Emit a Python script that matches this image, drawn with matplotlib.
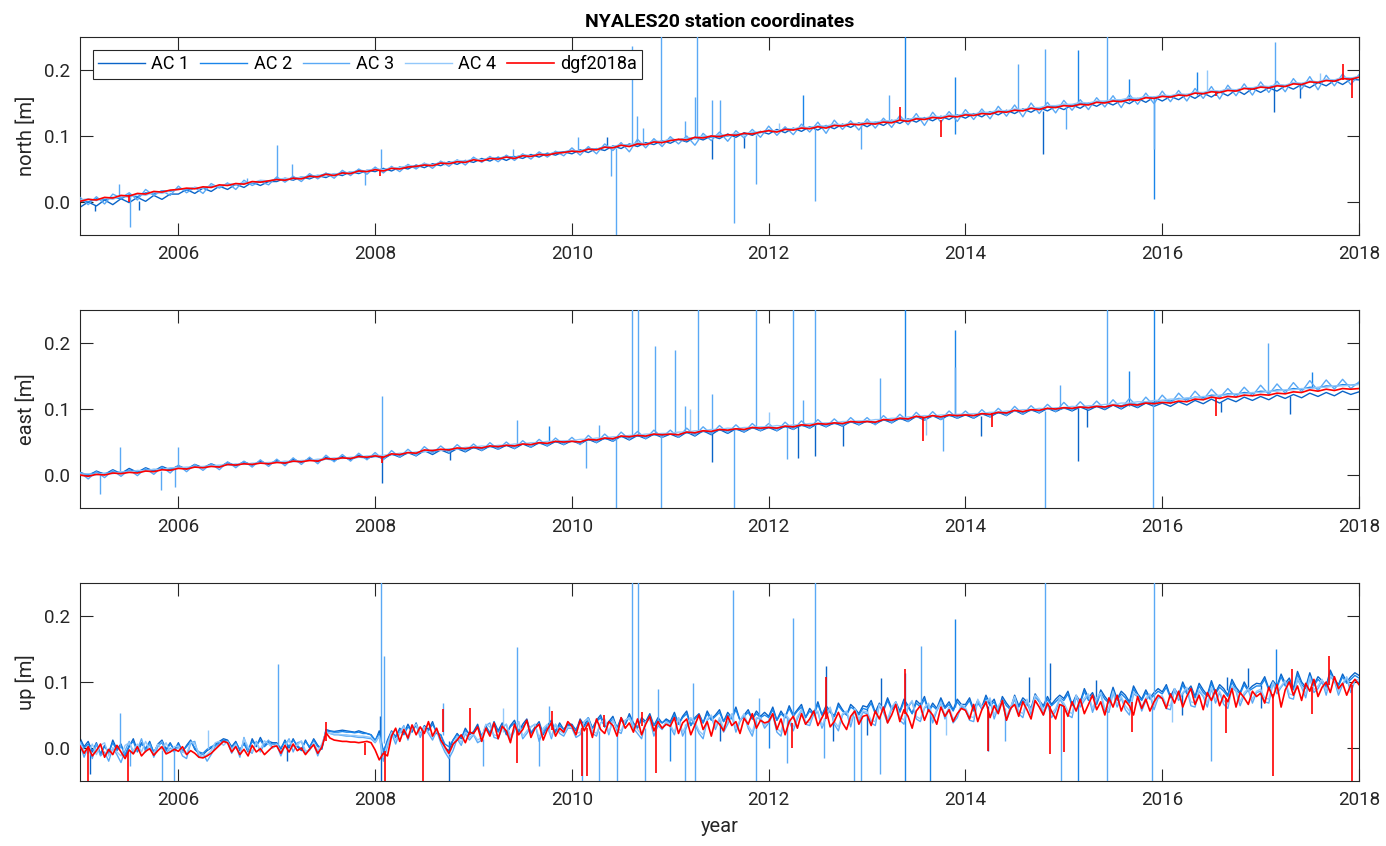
import numpy as np
import matplotlib
matplotlib.use("Agg")
import matplotlib.pyplot as plt

plt.rcParams['font.family'] = ['Roboto', 'DejaVu Sans']

# ---------------- data (millimetres) ----------------
series_names = ['AC 1', 'AC 2', 'AC 3', 'AC 4', 'dgf2018a']
panel_labels = ['north [m]', 'east [m]', 'up [m]']
year_ticks = [2006, 2008, 2010, 2012, 2014, 2016, 2018]
value_ticks = [0.0, 0.1, 0.2]
years_monthly = 2005 + np.arange(157) / 12.0      # north / east samples
years_halfmonth = 2005 + np.arange(313) / 24.0    # up samples

north_ac1 = [-8,0,-6,3,-4,5,-1,7,1,10,4,12,
             12,19,13,21,16,24,19,27,22,30,25,31,
             31,36,33,38,35,40,37,43,40,46,43,48,
             46,51,47,53,50,56,52,58,55,61,57,63,
             60,66,62,68,63,69,66,72,68,74,71,76,
             73,79,75,81,78,85,81,88,84,90,87,93,
             89,95,91,98,94,100,96,103,98,105,101,107,
             103,110,105,112,107,114,109,116,111,118,113,120,
             114,121,116,124,119,126,121,128,123,130,125,132,
             127,134,129,137,132,139,134,141,136,143,138,145,
             140,147,142,150,145,152,147,154,149,157,151,159,
             153,160,155,163,157,165,159,167,161,170,163,172,
             166,173,168,176,171,178,173,181,176,184,178,186,
             185]
north_ac2 = [2,0,5,3,7,5,11,8,14,12,17,16,
             20,18,22,21,24,23,27,26,29,28,32,31,
             35,33,37,36,40,39,43,41,45,44,48,47,
             50,48,52,51,55,53,57,56,60,59,62,61,
             65,63,67,66,69,68,71,70,73,72,75,76,
             78,77,81,80,84,83,87,86,89,88,92,91,
             95,94,97,96,99,98,101,100,103,102,105,105,
             109,107,111,110,113,112,115,114,117,116,119,118,
             121,119,123,121,125,124,127,126,129,128,131,130,
             134,132,136,134,138,137,140,139,143,141,145,144,
             148,146,150,148,152,151,154,153,157,155,159,158,
             161,160,163,162,166,165,168,167,171,169,173,172,
             175,174,178,176,180,179,183,182,185,184,188,187,
             190]
north_ac3 = [7,-4,8,-3,12,6,14,3,19,10,17,10,
             24,14,22,13,28,21,29,19,33,25,31,26,
             38,30,39,31,43,35,44,36,48,40,50,42,
             53,44,54,46,57,50,59,51,62,54,64,56,
             68,60,69,61,71,63,73,65,76,68,77,70,
             82,71,84,73,88,78,90,76,95,82,96,84,
             99,88,100,86,104,93,106,92,108,97,110,98,
             115,101,114,102,118,106,121,104,124,110,123,109,
             126,112,127,113,131,117,134,116,136,121,137,122,
             140,125,141,126,145,130,147,129,150,134,151,135,
             154,139,155,140,158,144,161,143,163,148,165,149,
             168,152,169,153,172,157,175,156,177,161,179,162,
             182,166,183,167,187,171,190,170,192,176,194,178,
             193]
north_ac4 = [3,5,2,6,4,9,7,12,10,15,13,17,
             19,20,22,21,25,24,27,26,30,29,33,32,
             34,36,35,38,37,41,39,43,42,46,45,48,
             50,49,52,52,55,54,58,56,60,59,63,62,
             65,64,67,66,68,67,71,70,73,72,75,75,
             78,77,80,80,83,84,87,86,90,88,92,92,
             95,94,97,97,100,99,102,101,104,103,106,106,
             108,108,110,111,113,113,115,115,118,117,119,119,
             121,121,123,123,126,125,128,127,130,129,132,131,
             134,133,136,136,139,138,141,140,143,143,146,146,
             148,148,151,150,153,153,155,155,158,157,160,159,
             162,161,164,163,166,166,169,168,171,170,173,173,
             176,175,178,177,181,180,183,182,186,185,189,188,
             190]
north_dgf = [1,4,3,7,6,10,9,13,12,16,15,18,
             19,21,20,23,22,26,25,28,27,31,30,32,
             34,33,36,35,39,38,42,40,44,43,47,46,
             49,47,51,50,53,54,56,55,59,58,61,60,
             64,62,66,65,68,66,70,69,72,71,74,75,
             77,76,80,79,83,82,86,84,88,87,91,90,
             93,95,94,98,97,100,99,102,101,104,103,106,
             108,106,110,109,112,111,114,112,116,115,118,117,
             119,118,121,120,124,122,126,125,128,127,130,129,
             132,131,134,133,137,136,139,138,142,140,144,143,
             146,145,148,147,151,150,153,152,155,154,158,157,
             160,159,162,161,165,164,167,166,169,168,172,171,
             174,173,176,175,179,178,182,181,184,183,187,186,
             189]

# spikes: (year, start value, extreme value) in mm
north_sp_ac1 = [(2005.15, -4, -14), (2005.6, 2, -12), (2010.36, 85, 98), (2011.42, 96, 65),
                (2011.75, 100, 82), (2014.79, 138, 73), (2017.14, 176, 136), (2017.4, 178, 158)]
north_sp_ac2 = [(2012.35, 110, 162), (2013.39, 124, 260), (2013.89, 128, 189), (2013.89, 128, 103),
                (2015.14, 149, 230), (2015.66, 153, 186), (2015.92, 157, 4), (2016.35, 162, 197)]
north_sp_ac3 = [(2005.40, 8, 28), (2005.51, 10, -38), (2007.0, 33, 87), (2007.15, 34, 58),
                (2007.9, 47, 25), (2008.06, 49, 81), (2010.06, 77, 98), (2010.40, 82, 40),
                (2010.45, 82, -55), (2010.61, 86, 237), (2010.66, 86, 130), (2010.72, 86, 112),
                (2010.91, 88, 260), (2011.15, 93, 123), (2011.25, 95, 159), (2011.27, 95, 260),
                (2011.42, 97, 155), (2011.50, 98, 155), (2011.65, 99, -32), (2011.87, 101, 27),
                (2012.47, 112, 1), (2012.94, 116, 80), (2013.22, 120, 162), (2014.53, 138, 209),
                (2014.81, 141, 232), (2015.02, 146, 110), (2015.44, 152, 260), (2015.92, 157, 80),
                (2017.15, 174, 242), (2009.4, 68, 80), (2006.7, 27, 36)]
north_sp_ac4 = [(2008.7, 56, 62), (2012.1, 108, 120), (2016.46, 166, 200), (2017.6, 182, 195)]
north_sp_dgf = [(2013.33, 122, 144), (2013.75, 124, 98), (2016.55, 166, 160), (2017.84, 185, 209),
                (2017.93, 186, 157), (2005.5, 10, 0), (2008.05, 49, 40)]

east_ac1 = [4,-1,6,1,8,2,10,4,11,6,13,8,
            14,9,16,11,17,12,19,14,20,15,21,16,
            22,17,24,19,25,20,27,22,28,23,30,25,
            30,24,32,27,34,29,37,31,38,33,40,35,
            42,37,44,39,45,40,47,42,49,44,51,46,
            52,47,54,49,56,51,59,53,60,55,62,57,
            62,57,65,59,67,61,69,63,70,65,72,67,
            72,67,74,69,76,71,78,73,79,74,81,76,
            82,77,84,79,86,81,89,83,90,84,91,86,
            91,86,93,88,95,90,98,92,99,94,101,96,
            102,97,103,98,104,99,106,100,107,102,109,104,
            109,104,111,106,113,108,115,109,116,111,118,113,
            119,114,121,116,122,117,124,119,125,120,127,122,
            126]
east_ac2 = [3,1,4,2,5,4,7,6,8,7,10,9,
            11,10,13,12,14,13,16,15,17,16,19,18,
            20,19,21,20,23,22,24,23,26,25,27,26,
            28,27,31,30,33,32,36,35,38,37,40,39,
            41,40,43,42,45,44,47,46,48,47,50,49,
            51,50,53,52,55,54,58,57,59,58,61,60,
            62,61,64,63,66,65,68,67,69,68,71,70,
            72,71,73,72,75,74,77,76,78,77,80,79,
            81,80,83,82,85,84,88,86,89,88,90,89,
            91,90,92,91,94,93,97,95,98,97,100,99,
            101,100,103,102,104,103,106,105,108,107,111,110,
            113,112,116,115,118,117,121,120,123,122,125,124,
            127,126,129,128,131,130,133,132,135,134,137,136,
            138]
east_ac3 = [4,-6,5,-4,7,-2,8,-1,10,1,12,3,
            15,5,16,7,17,8,20,11,21,12,23,13,
            24,14,26,16,27,17,30,20,31,21,33,23,
            34,23,37,27,39,29,43,33,44,34,46,36,
            47,37,49,39,50,40,52,42,54,44,56,46,
            57,46,60,49,62,51,65,54,66,55,68,57,
            68,57,71,60,73,62,75,64,76,65,78,67,
            78,67,80,69,82,71,84,73,85,74,87,76,
            87,76,90,79,92,81,95,83,96,84,97,86,
            97,86,99,88,101,90,104,92,105,94,107,96,
            110,98,111,99,112,100,114,101,116,103,118,105,
            121,108,124,111,127,114,130,117,131,118,133,120,
            136,122,138,124,140,126,143,128,144,130,145,131,
            141]
east_ac4 = [1,2,0,3,2,5,4,7,6,9,8,11,
            11,12,12,13,14,15,15,17,16,18,18,19,
            19,21,20,22,22,24,24,26,25,27,27,29,
            29,30,31,33,33,35,35,38,37,40,39,42,
            42,44,43,45,45,47,47,49,49,51,51,52,
            52,54,54,56,56,58,58,60,60,62,62,63,
            63,65,65,67,67,69,69,71,70,72,72,73,
            73,75,74,76,76,78,78,79,79,81,81,82,
            82,84,84,86,86,88,88,90,89,91,91,92,
            92,93,93,95,95,97,97,99,99,101,100,102,
            102,104,103,105,105,107,107,109,109,111,111,113,
            113,115,115,117,117,119,119,121,121,123,123,125,
            125,127,127,129,129,131,131,133,133,135,135,136,
            137]
east_dgf = [0,-2,1,0,3,2,4,3,6,5,8,7,
            10,9,12,11,13,12,16,15,17,16,18,17,
            19,18,21,20,22,21,25,24,26,25,28,27,
            29,27,32,31,34,33,38,37,39,38,41,40,
            42,41,44,43,45,44,47,46,49,48,51,50,
            51,50,54,53,56,55,59,58,60,59,62,61,
            62,61,65,64,67,66,69,68,70,69,72,71,
            72,71,74,73,76,75,78,77,79,78,81,80,
            81,80,84,83,86,85,89,87,90,88,91,90,
            91,90,93,92,95,94,98,96,99,98,101,100,
            102,101,103,102,104,103,106,104,107,106,109,108,
            110,109,112,111,115,114,118,116,119,118,121,120,
            122,121,124,123,126,125,129,127,130,128,131,130,
            131]

east_sp_ac1 = [(2008.07, 29, -12), (2008.76, 36, 22), (2011.42, 66, 19), (2012.30, 74, 26),
               (2012.47, 75, 29), (2012.76, 77, 44), (2014.16, 90, 59), (2015.14, 101, 21),
               (2015.24, 102, 72), (2017.3, 119, 92), (2016.6, 111, 95)]
east_sp_ac2 = [(2009.77, 48, 74), (2013.39, 86, 260), (2013.89, 90, 220), (2015.66, 105, 158),
               (2015.92, 108, 260), (2017.52, 132, 156)]
east_sp_ac3 = [(2005.2, 2, -29), (2005.41, 4, 43), (2005.82, 6, -22), (2005.97, 9, -18),
               (2006.0, 10, 43), (2008.07, 30, 120), (2009.44, 45, 83), (2010.14, 52, 10),
               (2010.28, 54, 76), (2010.45, 57, -55), (2010.61, 60, 260), (2010.67, 60, 260),
               (2010.84, 61, 195), (2010.91, 61, -55), (2011.05, 62, 189), (2011.15, 63, 104),
               (2011.28, 65, 260), (2011.42, 67, 122), (2011.65, 69, -55), (2011.87, 71, 260),
               (2012.19, 73, 24), (2012.25, 73, 260), (2012.35, 74, 113), (2012.47, 75, 260),
               (2013.13, 83, 147), (2013.77, 88, 37), (2013.89, 90, 163), (2014.81, 97, -55),
               (2014.96, 100, 137), (2015.44, 104, 260), (2015.91, 108, -55), (2017.08, 122, 200)]
east_sp_ac4 = [(2011.2, 64, 100), (2012.0, 72, 95), (2013.6, 88, 60)]
east_sp_dgf = [(2013.57, 88, 52), (2014.27, 94, 72), (2016.55, 117, 90), (2008.07, 29, 18)]

up_ac1 = [15,2,10,-6,8,-10,4,-8,12,-2,6,-12,2,14,-4,8,-2,10,-8,6,12,-2,8,-4,
          8,-6,4,12,-2,-8,-10,-4,0,6,10,14,12,2,10,-4,8,-6,14,2,16,4,10,8,
          8,-2,12,0,14,2,-4,12,0,14,4,-2,28,26,25,26,27,26,25,24,26,24,22,20,
          10,26,-10,12,26,16,30,22,36,24,38,20,34,28,40,22,20,0,-4,12,22,14,30,20,
          25,36,16,34,22,40,26,38,20,34,42,24,36,44,22,32,40,20,34,42,24,38,28,36,
          36,26,44,34,46,30,42,50,32,40,48,30,46,36,52,38,30,46,40,52,34,46,38,44,
          40,54,36,48,56,34,46,52,38,56,44,50,58,40,54,46,62,42,50,58,44,56,48,54,
          48,62,42,56,46,64,50,58,66,46,60,52,70,50,64,56,48,68,58,50,66,60,52,64,
          62,72,54,68,58,76,60,70,56,74,64,52,72,66,78,56,68,60,76,62,70,58,74,66,
          66,76,58,72,62,80,66,74,56,78,68,60,80,64,76,70,60,82,72,64,78,66,74,80,
          75,86,66,80,70,90,76,84,68,88,78,70,92,74,86,80,70,94,82,74,88,76,84,90,
          85,96,78,90,80,100,86,94,78,98,88,80,102,84,96,90,80,104,92,84,100,88,94,98,
          97,108,90,102,94,112,98,106,90,116,100,92,114,96,108,102,94,118,104,96,112,100,108,114,
          110]
up_ac2 = [10,0,6,-4,6,-8,2,-6,8,-4,4,-10,4,10,-6,6,0,8,-6,4,8,-4,6,-2,
          6,-4,2,10,0,-6,-8,-2,2,4,8,12,10,0,8,-2,6,-4,10,4,12,2,8,6,
          6,0,10,2,12,4,-2,10,2,12,2,0,26,25,24,24,25,24,24,23,24,22,22,20,
          12,22,-4,10,24,18,28,20,32,26,34,22,30,26,36,24,20,6,2,12,20,16,26,22,
          22,32,18,30,24,36,24,34,22,32,38,26,32,40,24,30,36,22,32,38,26,34,28,34,
          34,28,40,32,42,30,40,46,32,38,44,30,42,36,48,36,32,42,38,48,34,42,38,42,
          38,50,36,46,52,34,44,50,38,52,42,48,54,40,50,44,58,42,48,54,44,52,46,50,
          46,58,42,52,46,60,48,56,62,46,56,50,66,50,60,54,48,64,56,50,62,58,50,60,
          58,68,52,64,56,72,58,66,54,70,62,52,68,62,74,56,64,58,72,60,66,56,70,62,
          63,72,56,68,60,76,64,70,56,74,64,58,76,62,72,66,58,78,70,62,74,64,70,76,
          72,82,64,76,68,86,72,80,66,84,74,68,88,72,82,76,68,90,78,72,84,74,80,86,
          82,92,76,86,78,96,82,90,76,94,84,78,98,82,92,86,78,100,88,82,96,86,90,94,
          94,104,88,98,92,108,94,102,88,112,96,90,110,94,104,98,92,114,100,94,108,98,104,110,
          106]
up_ac3 = [5,-14,2,-16,6,-12,-6,-20,0,-10,-22,-4,10,-8,-2,14,-6,6,-14,2,10,-8,0,-6,
          2,-12,-16,8,10,-14,-8,-20,-10,2,6,10,8,-8,4,-14,16,-4,-8,10,-6,6,12,0,
          5,-12,4,14,-6,8,10,-8,-2,6,-12,4,25,22,20,20,19,18,18,17,16,16,15,14,
          8,18,-20,2,22,6,24,34,12,30,36,16,32,22,12,26,8,-6,-16,-4,14,4,22,12,
          20,8,12,34,38,16,14,30,36,12,26,40,14,22,32,36,10,26,34,14,36,22,18,30,
          30,16,20,40,46,22,18,38,42,20,44,26,22,42,46,30,22,14,40,44,18,34,28,40,
          32,20,46,18,32,44,36,22,14,42,48,28,44,24,36,50,24,40,50,30,18,44,46,30,
          38,50,24,18,50,40,26,44,58,36,34,52,54,30,46,60,36,26,50,54,32,58,40,54,
          52,38,34,66,54,38,60,68,42,36,62,70,44,40,60,66,38,56,68,44,60,38,46,64,
          58,42,40,72,58,68,74,44,62,70,42,58,74,52,46,72,50,78,72,50,66,46,56,74,
          64,50,46,78,62,72,80,54,72,82,56,54,84,62,76,58,50,82,78,56,72,80,58,76,
          76,60,58,88,72,82,90,64,62,86,78,62,90,68,84,66,60,92,86,64,80,88,68,84,
          86,70,68,98,82,92,100,76,74,104,92,76,106,84,90,102,80,108,102,80,96,106,84,102,
          100]
up_ac4 = [8,-4,-8,6,-10,4,8,-12,0,-6,-12,4,8,-4,6,-6,10,-2,-8,6,-2,8,-6,2,
          3,-6,-9,9,6,-8,-14,-10,-4,8,10,4,10,-2,6,-10,14,2,-6,8,-2,11,6,0,
          6,-6,2,12,2,4,11,-4,-4,8,-4,6,24,22,21,21,20,20,19,19,18,18,17,16,
          9,18,-14,6,24,12,22,32,16,30,36,20,32,24,16,28,14,-2,-10,4,18,8,24,16,
          21,12,16,36,32,20,18,32,36,18,30,40,18,26,32,36,16,30,36,18,36,26,22,32,
          32,22,24,40,44,26,22,38,44,24,42,30,26,42,46,34,28,20,40,44,24,38,30,40,
          35,24,46,24,36,46,40,26,20,44,50,32,46,30,40,52,30,42,52,34,24,46,46,34,
          42,52,30,24,52,44,32,48,58,40,38,54,56,34,48,62,40,32,52,56,38,60,44,56,
          55,42,40,66,58,44,62,70,48,42,64,72,48,44,62,68,44,58,70,48,62,44,50,66,
          61,48,46,74,62,70,76,50,64,72,48,62,78,56,52,74,56,80,74,56,70,52,60,76,
          68,56,52,80,66,76,82,60,76,84,60,60,86,66,78,64,56,84,80,62,76,82,64,78,
          79,66,64,90,76,84,92,70,68,88,80,68,92,72,86,72,66,94,88,70,84,90,74,86,
          89,76,74,100,86,94,102,82,80,106,94,82,108,88,94,104,86,110,104,86,98,108,90,104,
          103]
up_dgf = [3,-8,2,-12,-4,6,-14,-2,-10,4,-6,-16,-3,-9,2,-12,-5,-1,-11,-4,2,-9,-6,-2,
          -5,2,-10,-4,-8,-14,-15,-12,-8,-2,4,10,8,-6,2,-10,-2,-12,4,-6,-1,-10,-4,2,
          3,-8,4,-6,6,-4,0,-10,-2,5,-8,1,23,15,12,11,10,10,9,9,8,9,10,8,
          -3,-18,-8,-12,18,30,10,28,15,35,20,32,22,40,18,30,12,2,-8,6,12,20,8,24,
          22,32,10,30,18,38,14,33,26,8,36,20,28,42,16,30,36,12,28,38,18,30,24,40,
          33,20,42,26,38,16,44,28,22,40,34,18,46,30,38,24,44,20,36,48,26,40,30,36,
          33,46,22,38,44,20,35,50,28,40,18,42,36,26,48,34,40,22,45,36,52,30,42,38,
          40,52,28,44,20,40,48,30,52,36,44,56,34,46,58,32,40,54,38,28,48,56,36,48,
          50,34,56,44,62,38,50,66,40,58,48,30,56,64,42,58,50,36,62,48,58,40,52,60,
          57,44,66,40,58,70,46,64,52,72,42,60,66,48,70,58,44,72,62,50,68,56,44,66,
          63,48,70,56,74,52,66,80,58,70,50,76,62,80,56,72,64,50,78,60,74,56,70,80,
          75,60,82,68,86,62,78,90,66,80,58,84,72,88,64,80,70,90,62,84,76,66,86,78,
          83,68,92,76,96,62,88,100,80,94,72,98,86,104,78,92,100,84,108,90,98,80,96,104,
          96]

up_sp_ac1 = [(2005.1, 5, -40), (2007.1, 4, -20), (2008.05, 10, 48), (2008.06, 10, -55),
             (2008.75, 10, -55), (2012.58, 50, 124), (2012.65, 52, 10), (2013.14, 58, 106),
             (2014.23, 64, -4), (2014.65, 70, 108), (2014.86, 72, 129), (2015.33, 76, 103),
             (2016.66, 88, 108), (2016.87, 92, 121), (2011.5, 44, 10), (2013.0, 60, 20),
             (2016.2, 84, 50), (2017.0, 96, 60)]
up_sp_ac2 = [(2013.39, 58, -55), (2013.39, 58, 113), (2013.64, 60, -55), (2013.89, 62, 195),
             (2015.14, 74, -55), (2017.16, 95, 150), (2011.0, 38, -20), (2012.0, 46, 0)]
up_sp_ac3 = [(2005.41, 0, 53), (2005.51, -5, -28), (2005.83, -3, -55), (2005.96, 0, -55),
             (2007.01, 5, 127), (2008.06, 8, 260), (2008.09, 8, 140), (2008.69, 20, 68),
             (2009.1, 14, -28), (2009.44, 22, 153), (2009.67, 20, -28), (2009.77, 24, 63),
             (2010.1, 24, -55), (2010.28, 26, -55), (2010.46, 30, -55), (2010.61, 32, 260),
             (2010.67, 32, 260), (2010.74, 30, -55), (2010.87, 34, 89), (2011.15, 36, -55),
             (2011.23, 36, 99), (2011.25, 36, -55), (2011.64, 40, 240), (2011.87, 42, -55),
             (2012.19, 44, -23), (2012.25, 44, 197), (2012.47, 46, 260), (2012.56, 46, -15),
             (2012.87, 48, -55), (2012.94, 48, -55), (2013.13, 50, -40), (2013.55, 54, 155),
             (2014.81, 66, 260), (2014.97, 66, -55), (2015.44, 70, -55), (2015.90, 72, -55),
             (2015.92, 72, 260), (2016.5, 78, -20), (2011.9, 42, 75), (2014.4, 60, 10)]
up_sp_ac4 = [(2006.3, -2, 28), (2009.3, 24, 60), (2013.8, 56, 20), (2016.1, 76, 40)]
up_sp_dgf = [(2005.08, 0, -55), (2005.49, -6, -55), (2007.5, 10, 39), (2007.9, 8, -10),
             (2008.1, -5, -55), (2008.49, 24, -55), (2008.69, 24, 59), (2008.96, 22, 61),
             (2009.44, 25, -23), (2009.8, 28, 56), (2010.1, 30, -43), (2010.15, 30, -43),
             (2010.33, 32, 50), (2010.71, 34, 55), (2010.85, 35, -38), (2012.24, 38, 0),
             (2012.58, 44, 108), (2013.39, 52, 119), (2014.23, 58, -4), (2014.86, 64, -9),
             (2015.0, 64, -6), (2015.69, 70, 24), (2016.65, 76, 22), (2017.13, 82, -42),
             (2017.32, 88, 120), (2017.52, 93, 52), (2017.7, 95, 140), (2017.93, 96, -55)]

colors = ['#0a64c8', '#1a85ea', '#5aa9f5', '#93c8fa', '#ff0000']

panels = [
    (years_monthly,
     (north_ac1, north_ac2, north_ac3, north_ac4, north_dgf),
     (north_sp_ac1, north_sp_ac2, north_sp_ac3, north_sp_ac4, north_sp_dgf)),
    (years_monthly,
     (east_ac1, east_ac2, east_ac3, east_ac4, east_dgf),
     (east_sp_ac1, east_sp_ac2, east_sp_ac3, east_sp_ac4, east_sp_dgf)),
    (years_halfmonth,
     (up_ac1, up_ac2, up_ac3, up_ac4, up_dgf),
     (up_sp_ac1, up_sp_ac2, up_sp_ac3, up_sp_ac4, up_sp_dgf)),
]

# ---------------- figure ----------------
fig = plt.figure(figsize=(13.86, 8.46), dpi=100)
axcol = '#262626'
left, width = 80 / 1386, 1279 / 1386
bottoms = [1 - 235 / 846, 1 - 508 / 846, 1 - 781 / 846]
height = 198 / 846

for k, (tt, vals, spikes) in enumerate(panels):
    ax = fig.add_axes([left, bottoms[k], width, height])
    handles = []
    for j in range(5):
        lw = 1.0 if j < 4 else 1.2
        h, = ax.plot(tt, np.array(vals[j]) / 1000.0, color=colors[j], lw=lw,
                     zorder=2 + j, label=series_names[j])
        handles.append(h)
        sp = spikes[j]
        if sp:
            xs = [s[0] for s in sp]
            y0 = [s[1] / 1000.0 for s in sp]
            y1 = [s[2] / 1000.0 for s in sp]
            ax.vlines(xs, y0, y1, color=colors[j], lw=lw, zorder=2 + j)
    ax.set_xlim(2005, 2018)
    ax.set_ylim(-0.05, 0.25)
    ax.set_xticks(year_ticks)
    ax.set_yticks(value_ticks)
    ax.set_yticklabels(['%.1f' % v for v in value_ticks])
    ax.tick_params(direction='in', top=True, right=True, length=9, width=0.8,
                   colors=axcol, labelsize=13.5, pad=7)
    for s in ax.spines.values():
        s.set_color(axcol)
        s.set_linewidth(0.8)
    ax.set_ylabel(panel_labels[k], fontsize=14.5, color=axcol, labelpad=6)
    if k == 0:
        ax.set_title('NYALES20 station coordinates', fontsize=14, fontweight='bold',
                     color='black', pad=7)
        leg = ax.legend(handles=handles, loc='upper left', ncol=5, fontsize=13,
                        frameon=True, fancybox=False, framealpha=1, edgecolor=axcol,
                        borderaxespad=0.7, handlelength=2.6, handletextpad=0.35,
                        columnspacing=0.6, borderpad=0.3)
        leg.get_frame().set_linewidth(0.8)
        leg.set_zorder(20)
    if k == 2:
        ax.set_xlabel('year', fontsize=14.5, color=axcol, labelpad=6)

fig.savefig('out.png', dpi=100)
